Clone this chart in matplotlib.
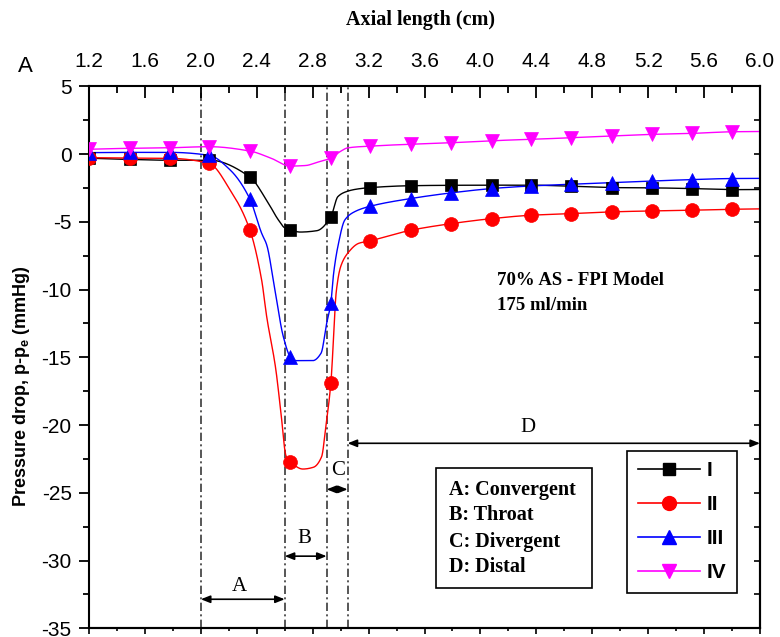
import numpy as np
import matplotlib
matplotlib.use("Agg")
import matplotlib.pyplot as plt
from matplotlib.ticker import MultipleLocator
from matplotlib.lines import Line2D
from matplotlib.patches import Rectangle

plt.rcParams['font.family'] = ['Liberation Sans', 'DejaVu Sans']
plt.rcParams['axes.unicode_minus'] = False
plt.rcParams['mathtext.fontset'] = 'custom'
plt.rcParams['mathtext.rm'] = 'Liberation Sans'
plt.rcParams['mathtext.bf'] = 'Liberation Sans:bold'
plt.rcParams['mathtext.it'] = 'Liberation Sans:italic'

# ---------------- data ----------------
axial_cm = [1.2, 1.49, 1.78, 2.06, 2.35, 2.64, 2.93, 3.21, 3.5, 3.79,
            4.08, 4.36, 4.65, 4.94, 5.23, 5.51, 5.8]
series_names = ['I', 'II', 'III', 'IV']
dp_I = [-0.31, -0.40, -0.46, -0.45, -1.69, -5.60, -4.64, -2.48, -2.34, -2.31,
        -2.30, -2.30, -2.38, -2.48, -2.50, -2.55, -2.63]
dp_II = [-0.27, -0.30, -0.32, -0.70, -5.58, -22.71, -16.92, -6.41, -5.63, -5.14,
         -4.77, -4.52, -4.40, -4.27, -4.20, -4.15, -4.08]
dp_III = [0.10, 0.12, 0.12, -0.10, -3.30, -14.96, -11.00, -3.86, -3.29, -2.87,
          -2.55, -2.36, -2.23, -2.11, -1.99, -1.89, -1.81]
dp_IV = [0.35, 0.42, 0.46, 0.54, 0.22, -0.89, -0.30, 0.58, 0.72, 0.83,
         0.98, 1.08, 1.20, 1.33, 1.45, 1.52, 1.64]

# extra points read along the drawn (simulation) curves
curve_I_x = [2.47, 2.555, 2.60, 2.71, 2.83, 2.98, 3.04, 3.11, 6.0]
curve_I_y = [-3.40, -4.87, -5.45, -5.76, -5.66, -3.15, -2.78, -2.60, -2.62]
curve_II_x = [2.21, 2.435, 2.471, 2.535, 2.57, 2.61, 2.73, 2.805, 2.864, 2.894,
              2.97, 3.0, 3.05, 3.13, 6.0]
curve_II_y = [-2.66, -9.3, -12.0, -15.8, -18.8, -22.3, -23.25, -23.12, -22.34, -20.13,
              -10.04, -8.32, -7.33, -6.59, -4.05]
curve_III_x = [2.21, 2.435, 2.471, 2.53, 2.59, 2.68, 2.80, 2.86, 2.90, 2.95,
               2.98, 3.03, 3.10, 6.0]
curve_III_y = [-1.18, -5.85, -6.7, -10.04, -13.48, -15.25, -15.25, -14.7, -12.5, -8.8,
               -6.84, -4.87, -4.26, -1.80]
curve_IV_x = [2.50, 2.75, 2.83, 3.0, 3.05, 6.0]
curve_IV_y = [-0.30, -0.85, -0.62, 0.20, 0.45, 1.66]

x_ticks = [1.2, 1.6, 2.0, 2.4, 2.8, 3.2, 3.6, 4.0, 4.4, 4.8, 5.2, 5.6, 6.0]
x_tick_labels = ['1.2', '1.6', '2.0', '2.4', '2.8', '3.2', '3.6', '4.0', '4.4',
                 '4.8', '5.2', '5.6', '6.0']
region_bounds = [2.0, 2.6, 2.9, 3.05, 6.0]
region_letters = ['A', 'B', 'C', 'D']
region_legend = ['A: Convergent', 'B: Throat', 'C: Divergent', 'D: Distal']

colors = ['#000000', '#ff0000', '#0000ff', '#ff00ff']
markers = ['s', 'o', '^', 'v']
msizes = [8.5, 10, 10, 10.5]


def pchip(x, y, xs):
    x = np.asarray(x, float)
    y = np.asarray(y, float)
    h = np.diff(x)
    d = np.diff(y) / h
    n = len(x)
    m = np.zeros(n)
    for k in range(1, n - 1):
        if d[k - 1] * d[k] > 0:
            w1 = 2 * h[k] + h[k - 1]
            w2 = h[k] + 2 * h[k - 1]
            m[k] = (w1 + w2) / (w1 / d[k - 1] + w2 / d[k])

    def end(h0, h1, d0, d1):
        mm = ((2 * h0 + h1) * d0 - h0 * d1) / (h0 + h1)
        if np.sign(mm) != np.sign(d0):
            mm = 0.0
        elif np.sign(d0) != np.sign(d1) and abs(mm) > abs(3 * d0):
            mm = 3 * d0
        return mm
    m[0] = end(h[0], h[1], d[0], d[1])
    m[-1] = end(h[-1], h[-2], d[-1], d[-2])
    idx = np.clip(np.searchsorted(x, xs) - 1, 0, n - 2)
    t = (xs - x[idx]) / h[idx]
    h00 = 2 * t**3 - 3 * t**2 + 1
    h10 = t**3 - 2 * t**2 + t
    h01 = -2 * t**3 + 3 * t**2
    h11 = t**3 - t**2
    return h00 * y[idx] + h10 * h[idx] * m[idx] + h01 * y[idx + 1] + h11 * h[idx] * m[idx + 1]


# ---------------- figure ----------------
fig = plt.figure(figsize=(7.8, 6.37), dpi=100)
ax = fig.add_axes([89 / 780, 1 - 628.25 / 637, 671 / 780, 542 / 637])
ax.set_xlim(1.2, 6.0)
ax.set_ylim(-35, 5)

for b in region_bounds[:-1]:
    ax.axvline(b, color='#3a3a3a', lw=1.2, ls=(0, (5, 2, 1.2, 2)), zorder=1)

all_y = [dp_I, dp_II, dp_III, dp_IV]
all_cx = [curve_I_x, curve_II_x, curve_III_x, curve_IV_x]
all_cy = [curve_I_y, curve_II_y, curve_III_y, curve_IV_y]
xs = np.linspace(1.2, 6.0, 2000)
for ys, cx, cy, c, mk, ms in zip(all_y, all_cx, all_cy, colors, markers, msizes):
    lx = np.array(axial_cm + cx)
    ly = np.array(ys + cy)
    order = np.argsort(lx)
    ax.plot(xs, pchip(lx[order], ly[order], xs), color=c, lw=1.0, zorder=2)
    ax.plot(axial_cm, ys, ls='none', marker=mk, ms=ms, color=c, mec=c, mew=0.5,
            zorder=3)

# region arrows
arrow_y = [-32.86, -29.68, -24.75, -21.35]
label_xy = [(2.273, -31.93), (2.738, -28.36), (2.98, -23.37), (4.34, -20.2)]
for i, letter in enumerate(region_letters):
    ax.annotate('', xy=(region_bounds[i + 1], arrow_y[i]),
                xytext=(region_bounds[i], arrow_y[i]),
                arrowprops=dict(arrowstyle='<|-|>,head_length=0.55,head_width=0.22',
                                color='black', lw=1.2, shrinkA=0, shrinkB=0),
                zorder=4)
    ax.text(label_xy[i][0], label_xy[i][1], letter, ha='center', va='center',
            fontsize=15, family='Liberation Serif', zorder=4)

# region description box
ax.add_patch(Rectangle((0.5171, 0.0743), 0.2325, 0.2214, transform=ax.transAxes,
                       facecolor='white', edgecolor='black', lw=1.2, zorder=5))
for txt, yy in zip(region_legend, [0.2551, 0.2089, 0.1597, 0.1135]):
    ax.text(0.5365, yy, txt, transform=ax.transAxes, ha='left', va='center',
            fontsize=14.5, family='Liberation Serif', fontweight='bold', zorder=6)

ax.text(0.608, 0.6407, '70% AS - FPI Model', transform=ax.transAxes, ha='left',
        va='center', fontsize=13.5, family='Liberation Serif', fontweight='bold')
ax.text(0.608, 0.5946, '175 ml/min', transform=ax.transAxes, ha='left',
        va='center', fontsize=13.5, family='Liberation Serif', fontweight='bold')

# legend
handles = [Line2D([], [], color=c, marker=m, ms=ms, lw=1.2)
           for c, m, ms in zip(colors, markers, msizes)]
leg = ax.legend(handles, series_names, loc='upper left', bbox_to_anchor=(0.8025, 0.327),
                borderaxespad=0, frameon=True, fancybox=False, edgecolor='black',
                framealpha=1, prop=dict(family='Liberation Sans', weight='bold', size=15),
                handlelength=2.98, handletextpad=0.32, borderpad=0.5, labelspacing=0.72)
leg.get_frame().set_linewidth(1.2)
leg.set_zorder(6)

# ticks
ax.set_xticks(x_ticks, labels=x_tick_labels)
ax.xaxis.set_minor_locator(MultipleLocator(0.2))
ax.tick_params(axis='x', which='both', top=True, bottom=False, labeltop=True,
               labelbottom=False, direction='in')
ax.tick_params(axis='x', which='major', length=8.4, width=1.3, pad=11, labelsize=15)
ax.tick_params(axis='x', which='minor', length=4.8, width=1.3)

ax.yaxis.set_major_locator(MultipleLocator(5))
ax.yaxis.set_minor_locator(MultipleLocator(2.5))
ax.tick_params(axis='y', which='both', left=True, right=False, direction='out')
ax.tick_params(axis='y', which='major', length=7.2, width=1.3, pad=5.3, labelsize=15)
ax.tick_params(axis='y', which='minor', length=4, width=1.3)

secx = ax.secondary_xaxis('bottom')
secx.set_xticks(x_ticks)
secx.xaxis.set_minor_locator(MultipleLocator(0.2))
secx.tick_params(axis='x', which='both', direction='out', labelbottom=False,
                 length=4, width=1.2)
secx.tick_params(axis='x', which='minor', length=2.5)
secx.spines['bottom'].set_linewidth(1.5)

secy = ax.secondary_yaxis('right')
secy.yaxis.set_major_locator(MultipleLocator(5))
secy.yaxis.set_minor_locator(MultipleLocator(2.5))
secy.tick_params(axis='y', which='both', direction='in', labelright=False,
                 length=4, width=1.2)
secy.spines['right'].set_linewidth(1.5)

for s in ax.spines.values():
    s.set_linewidth(1.5)

fig.text(421 / 780, 1 - 20 / 637, 'Axial length (cm)', ha='center', va='center',
         fontsize=14.5, family='Liberation Serif', fontweight='bold')
fig.text(22 / 780, 1 - 386 / 637, r'Pressure drop, p-p$_{\mathbf{e}}$ (mmHg)',
         rotation=90, ha='center', va='center', fontsize=13, fontweight='bold',
         family=['Liberation Sans Narrow', 'Liberation Sans'])
fig.text(25 / 780, 1 - 66 / 637, 'A', ha='center', va='center', fontsize=16)

fig.savefig('out.png', dpi=100)
